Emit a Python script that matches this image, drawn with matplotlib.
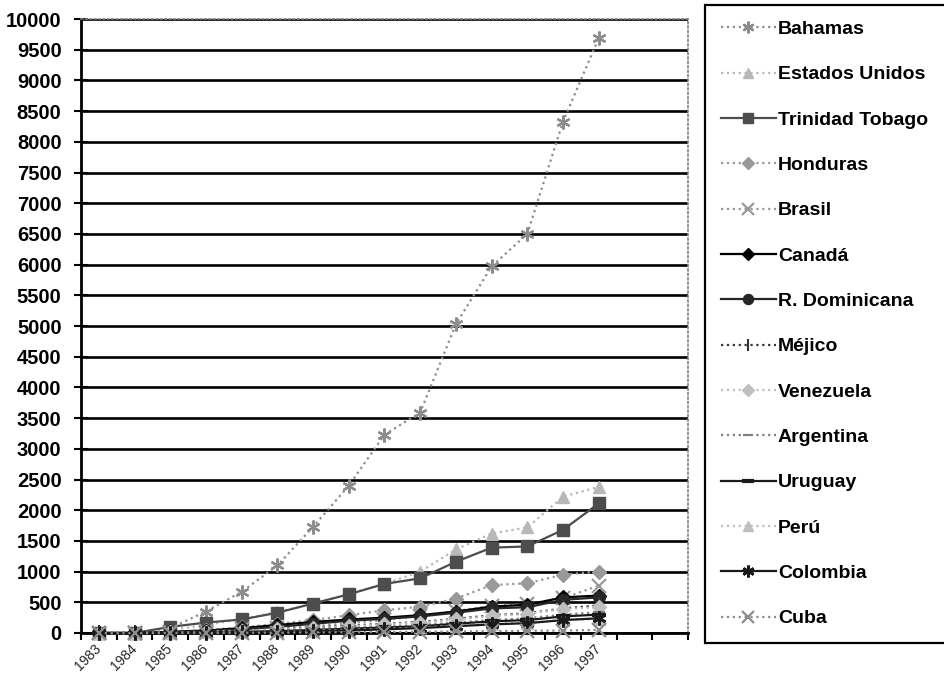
import matplotlib
matplotlib.use("Agg")
import matplotlib.pyplot as plt
import numpy as np

plt.rcParams['font.family'] = ['Liberation Sans', 'DejaVu Sans']

years = ['1983', '1984', '1985', '1986', '1987', '1988', '1989', '1990',
         '1991', '1992', '1993', '1994', '1995', '1996', '1997']
n_slots = 17  # category slots on the axis (last two are empty)

bahamas = [0, 0, 80, 350, 670, 1100, 1730, 2400, 3230, 3590, 5030, 5970, 6500, 8330, 9690]
estados_unidos = [0, 0, 50, 130, 230, 340, 480, 640, 800, 1000, 1360, 1620, 1720, 2220, 2380]
trinidad_tobago = [0, 0, 100, 170, 220, 330, 480, 630, 800, 890, 1160, 1390, 1410, 1680, 2110]
honduras = [0, 0, 20, 50, 90, 150, 210, 290, 370, 430, 560, 780, 810, 950, 1000]
brasil = [0, 0, 10, 30, 60, 80, 110, 160, 210, 280, 360, 440, 470, 570, 770]
canada = [0, 0, 20, 40, 80, 130, 180, 220, 250, 290, 350, 430, 460, 580, 610]
r_dominicana = [0, 0, 10, 30, 60, 100, 150, 200, 230, 270, 330, 400, 420, 540, 580]
mejico = [0, 0, 10, 20, 40, 60, 90, 120, 150, 180, 230, 290, 320, 400, 450]
venezuela = [0, 0, 10, 20, 40, 60, 80, 110, 140, 170, 220, 280, 310, 390, 420]
argentina = [0, 0, 5, 10, 20, 40, 60, 80, 100, 130, 170, 210, 240, 300, 340]
uruguay = [0, 0, 5, 10, 20, 30, 50, 70, 90, 110, 150, 190, 210, 270, 300]
peru = [0, 0, 5, 10, 15, 25, 40, 50, 70, 90, 120, 150, 170, 210, 230]
colombia = [0, 0, 0, 5, 10, 20, 30, 40, 60, 80, 110, 140, 160, 210, 240]
cuba = [0, 0, 0, 0, 5, 5, 10, 10, 15, 20, 25, 30, 35, 40, 50]

series = [
    ("Bahamas", bahamas, dict(color='0.55', ls=':', marker=(6, 2, 0), ms=10, mew=1.6)),
    ("Estados Unidos", estados_unidos, dict(color='0.72', ls=':', marker='^', ms=9)),
    ("Trinidad Tobago", trinidad_tobago, dict(color='0.3', ls='-', marker='s', ms=8.5)),
    ("Honduras", honduras, dict(color='0.6', ls=':', marker='D', ms=7.5)),
    ("Brasil", brasil, dict(color='0.6', ls=':', marker='x', ms=10, mew=1.6)),
    ("Canadá", canada, dict(color='black', ls='-', marker='D', ms=7.5)),
    ("R. Dominicana", r_dominicana, dict(color='0.15', ls='-', marker='o', ms=8.5)),
    ("Méjico", mejico, dict(color='0.2', ls=':', marker='|', ms=11, mew=1.5)),
    ("Venezuela", venezuela, dict(color='0.75', ls=':', marker='D', ms=7.5)),
    ("Argentina", argentina, dict(color='0.5', ls=':', marker='_', ms=8, mew=1.5)),
    ("Uruguay", uruguay, dict(color='0.1', ls='-', marker='_', ms=10, mew=3)),
    ("Perú", peru, dict(color='0.75', ls=':', marker='^', ms=9)),
    ("Colombia", colombia, dict(color='0.1', ls='-', marker=(6, 2, 0), ms=10, mew=2)),
    ("Cuba", cuba, dict(color='0.55', ls=':', marker='x', ms=10, mew=1.6)),
]

fig = plt.figure(figsize=(9.45, 6.83), dpi=100)
ax = fig.add_axes([81 / 945, 1 - 633 / 683, (688 - 81) / 945, (633 - 19) / 683])

x = np.arange(len(years)) + 0.5
handles = []
for name, vals, st in series:
    h, = ax.plot(x, vals, lw=1.6, label=name, zorder=3, clip_on=False, **st)
    handles.append(h)

ax.set_xlim(0, n_slots)
ax.set_ylim(0, 10000)
ax.set_yticks(np.arange(0, 10001, 500))
ax.set_yticklabels([str(v) for v in range(0, 10001, 500)],
                   fontsize=14.5, fontweight='bold')
ax.yaxis.grid(True, color='black', lw=1.9, zorder=1)
ax.set_axisbelow(True)

ax.set_xticks(np.arange(0, n_slots + 1), labels=[])
ax.set_xticks(x, minor=True)
ax.set_xticklabels(years, minor=True, rotation=45, ha='right', va='center',
                   rotation_mode='anchor', fontsize=10, color='0.15')
ax.tick_params(axis='x', which='minor', length=0, pad=10)
ax.tick_params(axis='x', which='major', direction='out', length=5, width=1.5)
ax.tick_params(axis='y', direction='inout', length=10, width=1.5, pad=9)

for s in ('left', 'bottom'):
    ax.spines[s].set_linewidth(2)
    ax.spines[s].set_color('black')
for s in ('top', 'right'):
    ax.spines[s].set_linestyle(':')
    ax.spines[s].set_color('0.5')
    ax.spines[s].set_linewidth(1.2)

leg = fig.legend(handles=handles, loc='upper left',
                 bbox_to_anchor=(705 / 945, 1 - 5 / 683, 270 / 945, 0.0),
                 mode='expand', borderaxespad=0,
                 prop={'weight': 'bold', 'size': 14},
                 handlelength=2.83, handletextpad=0.12, borderpad=0.8,
                 labelspacing=1.425, fancybox=False, framealpha=1,
                 markerscale=0.85)
leg.get_frame().set_edgecolor('black')
leg.get_frame().set_linewidth(1.6)

fig.savefig('out.png', dpi=100)
